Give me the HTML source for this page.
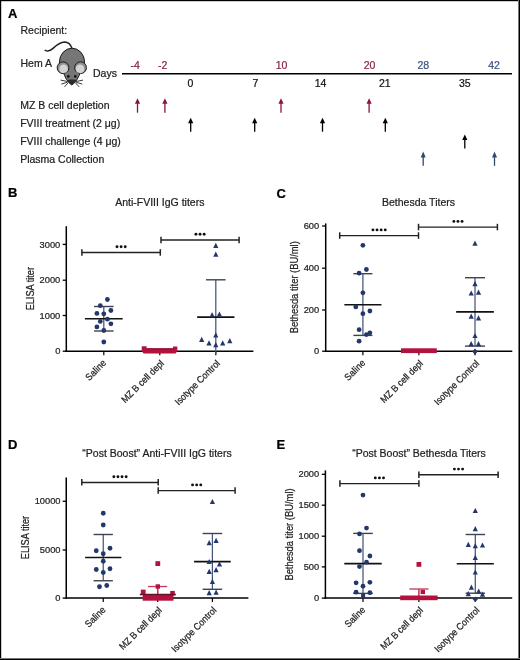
<!DOCTYPE html>
<html><head><meta charset="utf-8"><style>
html,body{margin:0;padding:0;background:#fff;}
svg{display:block;will-change:transform;}
text{font-family:"Liberation Sans", sans-serif;stroke:currentColor;stroke-width:0.22px;}
</style></head><body>
<svg width="520" height="660" viewBox="0 0 520 660">
<rect x="0" y="0" width="520" height="660" fill="#fff"/>
<rect x="0" y="0" width="520" height="1.2" fill="#000"/>
<rect x="0" y="0" width="1.2" height="660" fill="#000"/>
<rect x="518" y="0" width="1" height="660" fill="#777"/>
<rect x="519" y="0" width="1" height="660" fill="#000"/>
<rect x="0" y="658" width="520" height="1" fill="#777"/>
<rect x="0" y="659" width="520" height="1" fill="#000"/>
<text x="8" y="17.8" font-size="13" text-anchor="start" fill="#000" style="color:#000" font-weight="bold" >A</text>
<text x="20.5" y="34.1" font-size="10.5" text-anchor="start" fill="#222" style="color:#222" font-weight="normal" >Recipient:</text>
<text x="20.5" y="67.4" font-size="10.5" text-anchor="start" fill="#222" style="color:#222" font-weight="normal" >Hem A</text>
<text x="93" y="76.9" font-size="10.5" text-anchor="start" fill="#222" style="color:#222" font-weight="normal" >Days</text>
<line x1="122" y1="73.75" x2="512" y2="73.75" stroke="#000" stroke-width="1.5"/>
<text x="135.2" y="68.6" font-size="10.5" text-anchor="middle" fill="#862546" style="color:#862546" font-weight="normal" >-4</text>
<text x="162.65" y="68.6" font-size="10.5" text-anchor="middle" fill="#862546" style="color:#862546" font-weight="normal" >-2</text>
<text x="281.5" y="68.6" font-size="10.5" text-anchor="middle" fill="#862546" style="color:#862546" font-weight="normal" >10</text>
<text x="369.5" y="68.6" font-size="10.5" text-anchor="middle" fill="#862546" style="color:#862546" font-weight="normal" >20</text>
<text x="423.3" y="68.6" font-size="10.5" text-anchor="middle" fill="#3d5382" style="color:#3d5382" font-weight="normal" >28</text>
<text x="494" y="68.6" font-size="10.5" text-anchor="middle" fill="#3d5382" style="color:#3d5382" font-weight="normal" >42</text>
<text x="190.4" y="86.9" font-size="10.5" text-anchor="middle" fill="#111" style="color:#111" font-weight="normal" >0</text>
<text x="255.3" y="86.9" font-size="10.5" text-anchor="middle" fill="#111" style="color:#111" font-weight="normal" >7</text>
<text x="320.6" y="86.9" font-size="10.5" text-anchor="middle" fill="#111" style="color:#111" font-weight="normal" >14</text>
<text x="384.8" y="86.9" font-size="10.5" text-anchor="middle" fill="#111" style="color:#111" font-weight="normal" >21</text>
<text x="464.8" y="86.9" font-size="10.5" text-anchor="middle" fill="#111" style="color:#111" font-weight="normal" >35</text>
<text x="20.2" y="108.8" font-size="10.5" text-anchor="start" fill="#222" style="color:#222" font-weight="normal" >MZ B cell depletion</text>
<text x="20.2" y="126.8" font-size="10.5" text-anchor="start" fill="#222" style="color:#222" font-weight="normal" >FVIII treatment (2 μg)</text>
<text x="20.2" y="144.8" font-size="10.5" text-anchor="start" fill="#222" style="color:#222" font-weight="normal" >FVIII challenge (4 μg)</text>
<text x="20.2" y="162.5" font-size="10.5" text-anchor="start" fill="#222" style="color:#222" font-weight="normal" >Plasma Collection</text>
<line x1="137.5" y1="102.8" x2="137.5" y2="112.7" stroke="#8a1535" stroke-width="1.3"/>
<path d="M137.5 98.3 L140.1 103.8 L134.9 103.8 Z" fill="#8a1535"/>
<line x1="164.9" y1="102.8" x2="164.9" y2="112.7" stroke="#8a1535" stroke-width="1.3"/>
<path d="M164.9 98.3 L167.5 103.8 L162.3 103.8 Z" fill="#8a1535"/>
<line x1="281" y1="102.8" x2="281" y2="112.7" stroke="#8a1535" stroke-width="1.3"/>
<path d="M281 98.3 L283.6 103.8 L278.4 103.8 Z" fill="#8a1535"/>
<line x1="369.1" y1="102.8" x2="369.1" y2="112.7" stroke="#8a1535" stroke-width="1.3"/>
<path d="M369.1 98.3 L371.70000000000005 103.8 L366.5 103.8 Z" fill="#8a1535"/>
<line x1="190.7" y1="122.2" x2="190.7" y2="131.7" stroke="#000" stroke-width="1.3"/>
<path d="M190.7 117.7 L193.29999999999998 123.2 L188.1 123.2 Z" fill="#000"/>
<line x1="254.7" y1="122.2" x2="254.7" y2="131.7" stroke="#000" stroke-width="1.3"/>
<path d="M254.7 117.7 L257.3 123.2 L252.1 123.2 Z" fill="#000"/>
<line x1="322.5" y1="122.2" x2="322.5" y2="131.7" stroke="#000" stroke-width="1.3"/>
<path d="M322.5 117.7 L325.1 123.2 L319.9 123.2 Z" fill="#000"/>
<line x1="385.3" y1="122.2" x2="385.3" y2="131.7" stroke="#000" stroke-width="1.3"/>
<path d="M385.3 117.7 L387.90000000000003 123.2 L382.7 123.2 Z" fill="#000"/>
<line x1="464.8" y1="138.9" x2="464.8" y2="148.4" stroke="#000" stroke-width="1.3"/>
<path d="M464.8 134.4 L467.40000000000003 139.9 L462.2 139.9 Z" fill="#000"/>
<line x1="423.2" y1="156.5" x2="423.2" y2="165.8" stroke="#34476f" stroke-width="1.3"/>
<path d="M423.2 151.6 L425.7 157.5 L420.7 157.5 Z" fill="#34476f"/>
<line x1="494.5" y1="156.5" x2="494.5" y2="165.8" stroke="#34476f" stroke-width="1.3"/>
<path d="M494.5 151.6 L497.0 157.5 L492.0 157.5 Z" fill="#34476f"/>
<g>
<path d="M45.2 50.3 C47.5 51.6 50 51.2 53 48.4 C56.5 45 60 42 64.5 41.9 C68.5 41.9 70.8 44.5 72 48.5" fill="none" stroke="#222" stroke-width="1.5" stroke-linecap="round"/>
<ellipse cx="72" cy="62.2" rx="12.6" ry="14" fill="#767676" stroke="#1a1a1a" stroke-width="1"/>
<path d="M63.2 71.5 C64.5 77 67.5 82 71.8 85 C76.1 82 79.1 77 80.4 71.5" fill="#767676" stroke="#1a1a1a" stroke-width="1"/>
<circle cx="63.05" cy="67.7" r="5.9" fill="#8e8e8e" stroke="#1a1a1a" stroke-width="1"/>
<circle cx="63.6" cy="68.9" r="4.3" fill="#d4d4d4"/>
<circle cx="80.55" cy="67.7" r="5.9" fill="#8e8e8e" stroke="#1a1a1a" stroke-width="1"/>
<circle cx="80.0" cy="68.9" r="4.3" fill="#d4d4d4"/>
<path d="M64.6 72.5 C68 71.5 75.6 71.5 79 72.5 C77 79 74.5 82.5 71.8 84.6 C69.1 82.5 66.6 79 65.6 74.5 Z" fill="#767676"/>
<path d="M66.8 80.2 C69 79.4 74.6 79.4 76.8 80.2 C75.5 82.4 73.7 84 71.8 85 C69.9 84 68.1 82.4 66.8 80.2 Z" fill="#2b2b2b"/>
<circle cx="68.3" cy="76.4" r="1.35" fill="#111"/>
<circle cx="75.3" cy="76.4" r="1.35" fill="#111"/>
<g stroke="#222" stroke-width="0.9" fill="none" stroke-linecap="round">
<path d="M67 81.4 L61 80.2"/><path d="M67.2 82.3 L61.7 84"/><path d="M68 83 L64.8 86.5"/>
<path d="M76.6 81.4 L82.6 80.2"/><path d="M76.4 82.3 L81.9 84"/><path d="M75.6 83 L78.8 86.5"/>
</g>
</g>
<text x="8" y="197.3" font-size="13" text-anchor="start" fill="#000" style="color:#000" font-weight="bold" >B</text>
<text x="159.8" y="206.4" font-size="10.5" text-anchor="middle" fill="#222" style="color:#222" font-weight="normal" >Anti-FVIII IgG titers</text>
<line x1="66.3" y1="226.2" x2="66.3" y2="351.95" stroke="#000" stroke-width="1.5"/>
<line x1="65.55" y1="351.2" x2="253.4" y2="351.2" stroke="#000" stroke-width="1.5"/>
<line x1="62.699999999999996" y1="244.4" x2="66.3" y2="244.4" stroke="#000" stroke-width="1.3"/>
<text x="60.3" y="247.5" font-size="9.3" text-anchor="end" fill="#222" style="color:#222" font-weight="normal" >3000</text>
<line x1="62.699999999999996" y1="280.2" x2="66.3" y2="280.2" stroke="#000" stroke-width="1.3"/>
<text x="60.3" y="283.3" font-size="9.3" text-anchor="end" fill="#222" style="color:#222" font-weight="normal" >2000</text>
<line x1="62.699999999999996" y1="315.5" x2="66.3" y2="315.5" stroke="#000" stroke-width="1.3"/>
<text x="60.3" y="318.6" font-size="9.3" text-anchor="end" fill="#222" style="color:#222" font-weight="normal" >1000</text>
<line x1="62.699999999999996" y1="351.2" x2="66.3" y2="351.2" stroke="#000" stroke-width="1.3"/>
<text x="60.3" y="354.3" font-size="9.3" text-anchor="end" fill="#222" style="color:#222" font-weight="normal" >0</text>
<text x="0" y="0" font-size="10" text-anchor="middle" fill="#222" style="color:#222" textLength="43.3" lengthAdjust="spacingAndGlyphs" transform="translate(34.0,288.7) rotate(-90)">ELISA titer</text>
<line x1="103.8" y1="351.2" x2="103.8" y2="355.2" stroke="#000" stroke-width="1.2"/>
<text x="0" y="0" font-size="9.6" text-anchor="end" fill="#222" style="color:#222" textLength="24.8" lengthAdjust="spacingAndGlyphs" transform="translate(106.80,363.60) rotate(-45)">Saline</text>
<line x1="159.8" y1="351.2" x2="159.8" y2="355.2" stroke="#000" stroke-width="1.2"/>
<text x="0" y="0" font-size="9.6" text-anchor="end" fill="#222" style="color:#222" textLength="55.8" lengthAdjust="spacingAndGlyphs" transform="translate(164.60,364.00) rotate(-45)">MZ B cell depl</text>
<line x1="215.8" y1="351.2" x2="215.8" y2="355.2" stroke="#000" stroke-width="1.2"/>
<text x="0" y="0" font-size="9.6" text-anchor="end" fill="#222" style="color:#222" textLength="59.2" lengthAdjust="spacingAndGlyphs" transform="translate(220.60,364.00) rotate(-45)">Isotype Control</text>
<line x1="81.9" y1="252.5" x2="160.3" y2="252.5" stroke="#222" stroke-width="1.45"/>
<line x1="81.9" y1="249.2" x2="81.9" y2="255.7" stroke="#222" stroke-width="1.5"/>
<line x1="160.3" y1="249.2" x2="160.3" y2="255.7" stroke="#222" stroke-width="1.5"/>
<circle cx="117.00" cy="246.80" r="1.45" fill="#111"/>
<circle cx="121.10" cy="246.80" r="1.45" fill="#111"/>
<circle cx="125.20" cy="246.80" r="1.45" fill="#111"/>
<line x1="161" y1="240" x2="239.1" y2="240" stroke="#222" stroke-width="1.45"/>
<line x1="161" y1="236.7" x2="161" y2="243.2" stroke="#222" stroke-width="1.5"/>
<line x1="239.1" y1="236.7" x2="239.1" y2="243.2" stroke="#222" stroke-width="1.5"/>
<circle cx="195.95" cy="234.30" r="1.45" fill="#111"/>
<circle cx="200.05" cy="234.30" r="1.45" fill="#111"/>
<circle cx="204.15" cy="234.30" r="1.45" fill="#111"/>
<line x1="103.8" y1="306.5" x2="103.8" y2="331" stroke="#46557c" stroke-width="1.25"/>
<line x1="94.0" y1="306.5" x2="113.6" y2="306.5" stroke="#3e4254" stroke-width="1.4"/>
<line x1="94.0" y1="331" x2="113.6" y2="331" stroke="#3e4254" stroke-width="1.4"/>
<line x1="84.9" y1="318.8" x2="122.69999999999999" y2="318.8" stroke="#111" stroke-width="1.6"/>
<circle cx="107.4" cy="299.5" r="2.4" fill="#233768"/>
<circle cx="100.3" cy="305.7" r="2.4" fill="#233768"/>
<circle cx="110.9" cy="310.5" r="2.4" fill="#233768"/>
<circle cx="96.9" cy="313.4" r="2.4" fill="#233768"/>
<circle cx="103.8" cy="313.8" r="2.4" fill="#233768"/>
<circle cx="107.4" cy="319.2" r="2.4" fill="#233768"/>
<circle cx="100.3" cy="321.4" r="2.4" fill="#233768"/>
<circle cx="110.9" cy="323.8" r="2.4" fill="#233768"/>
<circle cx="96.9" cy="326.9" r="2.4" fill="#233768"/>
<circle cx="103.8" cy="330.5" r="2.4" fill="#233768"/>
<circle cx="103.8" cy="342" r="2.4" fill="#233768"/>
<path d="M141.7 346.3 H146.6 V348.3 H173 V346.5 H177.3 V351.2 L175.6 353.4 H143.6 L141.7 351.2 Z" fill="#b3123e"/>
<line x1="146.6" y1="348.9" x2="173" y2="348.9" stroke="#8a0f30" stroke-width="1.0"/>
<line x1="215.8" y1="279.8" x2="215.8" y2="354" stroke="#46557c" stroke-width="1.25"/>
<line x1="206.05" y1="279.8" x2="225.55" y2="279.8" stroke="#3e4254" stroke-width="1.4"/>
<line x1="197.15" y1="317.1" x2="234.45000000000002" y2="317.1" stroke="#111" stroke-width="1.6"/>
<path d="M215.80 242.70 L218.40 247.90 L213.20 247.90 Z" fill="#233768"/>
<path d="M215.80 251.50 L218.40 256.70 L213.20 256.70 Z" fill="#233768"/>
<path d="M212.10 312.00 L214.70 317.20 L209.50 317.20 Z" fill="#233768"/>
<path d="M219.40 311.40 L222.00 316.60 L216.80 316.60 Z" fill="#233768"/>
<path d="M215.80 332.30 L218.40 337.50 L213.20 337.50 Z" fill="#233768"/>
<path d="M201.70 336.80 L204.30 342.00 L199.10 342.00 Z" fill="#233768"/>
<path d="M209.00 340.20 L211.60 345.40 L206.40 345.40 Z" fill="#233768"/>
<path d="M215.80 342.10 L218.40 347.30 L213.20 347.30 Z" fill="#233768"/>
<path d="M222.70 340.20 L225.30 345.40 L220.10 345.40 Z" fill="#233768"/>
<path d="M229.80 338.00 L232.40 343.20 L227.20 343.20 Z" fill="#233768"/>
<text x="276.5" y="198.3" font-size="13" text-anchor="start" fill="#000" style="color:#000" font-weight="bold" >C</text>
<text x="418.5" y="205.8" font-size="10.5" text-anchor="middle" fill="#222" style="color:#222" font-weight="normal" >Bethesda Titers</text>
<line x1="325.7" y1="223.4" x2="325.7" y2="351.95" stroke="#000" stroke-width="1.5"/>
<line x1="324.95" y1="351.2" x2="512.3" y2="351.2" stroke="#000" stroke-width="1.5"/>
<line x1="322.09999999999997" y1="226" x2="325.7" y2="226" stroke="#000" stroke-width="1.3"/>
<text x="319.2" y="229.1" font-size="9.3" text-anchor="end" fill="#222" style="color:#222" font-weight="normal" >600</text>
<line x1="322.09999999999997" y1="268.2" x2="325.7" y2="268.2" stroke="#000" stroke-width="1.3"/>
<text x="319.2" y="271.3" font-size="9.3" text-anchor="end" fill="#222" style="color:#222" font-weight="normal" >400</text>
<line x1="322.09999999999997" y1="310" x2="325.7" y2="310" stroke="#000" stroke-width="1.3"/>
<text x="319.2" y="313.1" font-size="9.3" text-anchor="end" fill="#222" style="color:#222" font-weight="normal" >200</text>
<line x1="322.09999999999997" y1="351.2" x2="325.7" y2="351.2" stroke="#000" stroke-width="1.3"/>
<text x="319.2" y="354.3" font-size="9.3" text-anchor="end" fill="#222" style="color:#222" font-weight="normal" >0</text>
<text x="0" y="0" font-size="10" text-anchor="middle" fill="#222" style="color:#222" textLength="92" lengthAdjust="spacingAndGlyphs" transform="translate(297.5,287.2) rotate(-90)">Bethesda titer (BU/ml)</text>
<line x1="362.9" y1="351.2" x2="362.9" y2="355.2" stroke="#000" stroke-width="1.2"/>
<text x="0" y="0" font-size="9.6" text-anchor="end" fill="#222" style="color:#222" textLength="24.8" lengthAdjust="spacingAndGlyphs" transform="translate(365.90,363.60) rotate(-45)">Saline</text>
<line x1="418.9" y1="351.2" x2="418.9" y2="355.2" stroke="#000" stroke-width="1.2"/>
<text x="0" y="0" font-size="9.6" text-anchor="end" fill="#222" style="color:#222" textLength="55.8" lengthAdjust="spacingAndGlyphs" transform="translate(423.70,364.00) rotate(-45)">MZ B cell depl</text>
<line x1="475" y1="351.2" x2="475" y2="355.2" stroke="#000" stroke-width="1.2"/>
<text x="0" y="0" font-size="9.6" text-anchor="end" fill="#222" style="color:#222" textLength="59.2" lengthAdjust="spacingAndGlyphs" transform="translate(479.80,364.00) rotate(-45)">Isotype Control</text>
<line x1="339.7" y1="235.6" x2="418.5" y2="235.6" stroke="#222" stroke-width="1.45"/>
<line x1="339.7" y1="232.29999999999998" x2="339.7" y2="238.79999999999998" stroke="#222" stroke-width="1.5"/>
<line x1="418.5" y1="232.29999999999998" x2="418.5" y2="238.79999999999998" stroke="#222" stroke-width="1.5"/>
<circle cx="372.95" cy="229.90" r="1.45" fill="#111"/>
<circle cx="377.05" cy="229.90" r="1.45" fill="#111"/>
<circle cx="381.15" cy="229.90" r="1.45" fill="#111"/>
<circle cx="385.25" cy="229.90" r="1.45" fill="#111"/>
<line x1="418.5" y1="227.1" x2="497.4" y2="227.1" stroke="#222" stroke-width="1.45"/>
<line x1="418.5" y1="223.79999999999998" x2="418.5" y2="230.29999999999998" stroke="#222" stroke-width="1.5"/>
<line x1="497.4" y1="223.79999999999998" x2="497.4" y2="230.29999999999998" stroke="#222" stroke-width="1.5"/>
<circle cx="453.85" cy="221.40" r="1.45" fill="#111"/>
<circle cx="457.95" cy="221.40" r="1.45" fill="#111"/>
<circle cx="462.05" cy="221.40" r="1.45" fill="#111"/>
<line x1="362.9" y1="273.7" x2="362.9" y2="335.4" stroke="#46557c" stroke-width="1.25"/>
<line x1="353.34999999999997" y1="273.7" x2="372.45" y2="273.7" stroke="#3e4254" stroke-width="1.4"/>
<line x1="353.34999999999997" y1="335.4" x2="372.45" y2="335.4" stroke="#3e4254" stroke-width="1.4"/>
<line x1="344.34999999999997" y1="304.7" x2="381.45" y2="304.7" stroke="#111" stroke-width="1.6"/>
<circle cx="362.9" cy="245.3" r="2.4" fill="#233768"/>
<circle cx="366.4" cy="269.5" r="2.4" fill="#233768"/>
<circle cx="359.1" cy="273.2" r="2.4" fill="#233768"/>
<circle cx="362.9" cy="292.8" r="2.4" fill="#233768"/>
<circle cx="355.8" cy="306.9" r="2.4" fill="#233768"/>
<circle cx="369.9" cy="311" r="2.4" fill="#233768"/>
<circle cx="362.9" cy="313.7" r="2.4" fill="#233768"/>
<circle cx="359.1" cy="329.7" r="2.4" fill="#233768"/>
<circle cx="369.9" cy="332.8" r="2.4" fill="#233768"/>
<circle cx="366.4" cy="334.6" r="2.4" fill="#233768"/>
<circle cx="359.1" cy="341.2" r="2.4" fill="#233768"/>
<rect x="401" y="348.3" width="35.8" height="4.8" fill="#b3123e"/>
<line x1="475" y1="277.7" x2="475" y2="346.1" stroke="#46557c" stroke-width="1.25"/>
<line x1="465.0" y1="277.7" x2="485.0" y2="277.7" stroke="#3e4254" stroke-width="1.4"/>
<line x1="465.0" y1="346.1" x2="485.0" y2="346.1" stroke="#3e4254" stroke-width="1.4"/>
<line x1="456.15" y1="311.9" x2="493.85" y2="311.9" stroke="#111" stroke-width="1.6"/>
<path d="M475.00 240.60 L477.60 245.80 L472.40 245.80 Z" fill="#233768"/>
<path d="M475.00 281.00 L477.60 286.20 L472.40 286.20 Z" fill="#233768"/>
<path d="M471.20 290.40 L473.80 295.60 L468.60 295.60 Z" fill="#233768"/>
<path d="M478.50 289.60 L481.10 294.80 L475.90 294.80 Z" fill="#233768"/>
<path d="M471.20 313.50 L473.80 318.70 L468.60 318.70 Z" fill="#233768"/>
<path d="M478.50 315.20 L481.10 320.40 L475.90 320.40 Z" fill="#233768"/>
<path d="M475.00 332.90 L477.60 338.10 L472.40 338.10 Z" fill="#233768"/>
<path d="M471.20 341.00 L473.80 346.20 L468.60 346.20 Z" fill="#233768"/>
<path d="M478.50 341.00 L481.10 346.20 L475.90 346.20 Z" fill="#233768"/>
<path d="M475 348.4 L477.6 351.4 L475 355 L472.4 351.4 Z" fill="#233768"/>
<text x="8" y="449.0" font-size="13" text-anchor="start" fill="#000" style="color:#000" font-weight="bold" >D</text>
<text x="157" y="457.0" font-size="10.5" text-anchor="middle" fill="#222" style="color:#222" font-weight="normal" >“Post Boost” Anti-FVIII IgG titers</text>
<line x1="66.25" y1="477.5" x2="66.25" y2="598.85" stroke="#000" stroke-width="1.5"/>
<line x1="65.5" y1="598.1" x2="248.4" y2="598.1" stroke="#000" stroke-width="1.5"/>
<line x1="62.65" y1="501.25" x2="66.25" y2="501.25" stroke="#000" stroke-width="1.3"/>
<text x="60.5" y="504.35" font-size="9.3" text-anchor="end" fill="#222" style="color:#222" font-weight="normal" >10000</text>
<line x1="62.65" y1="550" x2="66.25" y2="550" stroke="#000" stroke-width="1.3"/>
<text x="60.5" y="553.1" font-size="9.3" text-anchor="end" fill="#222" style="color:#222" font-weight="normal" >5000</text>
<line x1="62.65" y1="598.1" x2="66.25" y2="598.1" stroke="#000" stroke-width="1.3"/>
<text x="60.5" y="601.2" font-size="9.3" text-anchor="end" fill="#222" style="color:#222" font-weight="normal" >0</text>
<text x="0" y="0" font-size="10" text-anchor="middle" fill="#222" style="color:#222" textLength="43.3" lengthAdjust="spacingAndGlyphs" transform="translate(28.6,537.5) rotate(-90)">ELISA titer</text>
<line x1="103.25" y1="598.1" x2="103.25" y2="602.1" stroke="#000" stroke-width="1.2"/>
<text x="0" y="0" font-size="9.6" text-anchor="end" fill="#222" style="color:#222" textLength="24.8" lengthAdjust="spacingAndGlyphs" transform="translate(106.25,610.50) rotate(-45)">Saline</text>
<line x1="157.7" y1="598.1" x2="157.7" y2="602.1" stroke="#000" stroke-width="1.2"/>
<text x="0" y="0" font-size="9.6" text-anchor="end" fill="#222" style="color:#222" textLength="55.8" lengthAdjust="spacingAndGlyphs" transform="translate(162.50,610.90) rotate(-45)">MZ B cell depl</text>
<line x1="212.4" y1="598.1" x2="212.4" y2="602.1" stroke="#000" stroke-width="1.2"/>
<text x="0" y="0" font-size="9.6" text-anchor="end" fill="#222" style="color:#222" textLength="59.2" lengthAdjust="spacingAndGlyphs" transform="translate(217.20,610.90) rotate(-45)">Isotype Control</text>
<line x1="81.8" y1="482.4" x2="158.2" y2="482.4" stroke="#222" stroke-width="1.45"/>
<line x1="81.8" y1="479.09999999999997" x2="81.8" y2="485.59999999999997" stroke="#222" stroke-width="1.5"/>
<line x1="158.2" y1="479.09999999999997" x2="158.2" y2="485.59999999999997" stroke="#222" stroke-width="1.5"/>
<circle cx="113.85" cy="476.70" r="1.45" fill="#111"/>
<circle cx="117.95" cy="476.70" r="1.45" fill="#111"/>
<circle cx="122.05" cy="476.70" r="1.45" fill="#111"/>
<circle cx="126.15" cy="476.70" r="1.45" fill="#111"/>
<line x1="158.2" y1="490.6" x2="235.1" y2="490.6" stroke="#222" stroke-width="1.45"/>
<line x1="158.2" y1="487.3" x2="158.2" y2="493.8" stroke="#222" stroke-width="1.5"/>
<line x1="235.1" y1="487.3" x2="235.1" y2="493.8" stroke="#222" stroke-width="1.5"/>
<circle cx="192.55" cy="484.90" r="1.45" fill="#111"/>
<circle cx="196.65" cy="484.90" r="1.45" fill="#111"/>
<circle cx="200.75" cy="484.90" r="1.45" fill="#111"/>
<line x1="103.25" y1="534.5" x2="103.25" y2="580.75" stroke="#46557c" stroke-width="1.25"/>
<line x1="93.6" y1="534.5" x2="112.9" y2="534.5" stroke="#3e4254" stroke-width="1.4"/>
<line x1="93.6" y1="580.75" x2="112.9" y2="580.75" stroke="#3e4254" stroke-width="1.4"/>
<line x1="85.1" y1="557.5" x2="121.4" y2="557.5" stroke="#111" stroke-width="1.6"/>
<circle cx="103.25" cy="513.25" r="2.4" fill="#233768"/>
<circle cx="103.25" cy="525" r="2.4" fill="#233768"/>
<circle cx="96.25" cy="550.75" r="2.4" fill="#233768"/>
<circle cx="110" cy="548.25" r="2.4" fill="#233768"/>
<circle cx="103.25" cy="553.75" r="2.4" fill="#233768"/>
<circle cx="103.25" cy="561.25" r="2.4" fill="#233768"/>
<circle cx="96.25" cy="569.5" r="2.4" fill="#233768"/>
<circle cx="110" cy="568.75" r="2.4" fill="#233768"/>
<circle cx="103.25" cy="572.5" r="2.4" fill="#233768"/>
<circle cx="99.5" cy="586.75" r="2.4" fill="#233768"/>
<circle cx="106.75" cy="585.5" r="2.4" fill="#233768"/>
<line x1="157.8" y1="586.5" x2="157.8" y2="598" stroke="#b3123e" stroke-width="1.3"/>
<line x1="148" y1="586.5" x2="167.2" y2="586.5" stroke="#c0385a" stroke-width="1.3"/>
<rect x="155.4" y="561.2" width="4.8" height="4.8" fill="#b3123e"/>
<rect x="155.60000000000002" y="584.3" width="4.4" height="4.4" fill="#b3123e"/>
<rect x="140.79999999999998" y="589.6" width="4.8" height="4.8" fill="#b3123e"/>
<rect x="170.2" y="590.9000000000001" width="4.6" height="4.6" fill="#b3123e"/>
<path d="M142.7 594.9 H173.5 V600.7 H142.7 Z" fill="#b3123e"/>
<line x1="139.8" y1="594.6" x2="175.9" y2="594.6" stroke="#6a1028" stroke-width="1.5"/>
<line x1="212.4" y1="533.5" x2="212.4" y2="589.3" stroke="#46557c" stroke-width="1.25"/>
<line x1="202.6" y1="533.5" x2="222.20000000000002" y2="533.5" stroke="#3e4254" stroke-width="1.4"/>
<line x1="202.6" y1="589.3" x2="222.20000000000002" y2="589.3" stroke="#3e4254" stroke-width="1.4"/>
<line x1="194.05" y1="561.6" x2="230.75" y2="561.6" stroke="#111" stroke-width="1.6"/>
<path d="M212.40 498.90 L215.00 504.10 L209.80 504.10 Z" fill="#233768"/>
<path d="M209.20 540.00 L211.80 545.20 L206.60 545.20 Z" fill="#233768"/>
<path d="M216.10 537.70 L218.70 542.90 L213.50 542.90 Z" fill="#233768"/>
<path d="M209.20 558.90 L211.80 564.10 L206.60 564.10 Z" fill="#233768"/>
<path d="M219.50 561.20 L222.10 566.40 L216.90 566.40 Z" fill="#233768"/>
<path d="M209.20 568.80 L211.80 574.00 L206.60 574.00 Z" fill="#233768"/>
<path d="M216.10 567.00 L218.70 572.20 L213.50 572.20 Z" fill="#233768"/>
<path d="M212.40 578.80 L215.00 584.00 L209.80 584.00 Z" fill="#233768"/>
<path d="M209.20 590.10 L211.80 595.30 L206.60 595.30 Z" fill="#233768"/>
<path d="M216.10 589.60 L218.70 594.80 L213.50 594.80 Z" fill="#233768"/>
<text x="276.5" y="448.5" font-size="13" text-anchor="start" fill="#000" style="color:#000" font-weight="bold" >E</text>
<text x="419" y="456.6" font-size="10.5" text-anchor="middle" fill="#222" style="color:#222" font-weight="normal" >“Post Boost” Bethesda Titers</text>
<line x1="325.4" y1="470.4" x2="325.4" y2="598.85" stroke="#000" stroke-width="1.5"/>
<line x1="324.65" y1="598.1" x2="512.2" y2="598.1" stroke="#000" stroke-width="1.5"/>
<line x1="321.79999999999995" y1="474.3" x2="325.4" y2="474.3" stroke="#000" stroke-width="1.3"/>
<text x="319.2" y="477.40000000000003" font-size="9.3" text-anchor="end" fill="#222" style="color:#222" font-weight="normal" >2000</text>
<line x1="321.79999999999995" y1="505.2" x2="325.4" y2="505.2" stroke="#000" stroke-width="1.3"/>
<text x="319.2" y="508.3" font-size="9.3" text-anchor="end" fill="#222" style="color:#222" font-weight="normal" >1500</text>
<line x1="321.79999999999995" y1="536.2" x2="325.4" y2="536.2" stroke="#000" stroke-width="1.3"/>
<text x="319.2" y="539.3000000000001" font-size="9.3" text-anchor="end" fill="#222" style="color:#222" font-weight="normal" >1000</text>
<line x1="321.79999999999995" y1="566.9" x2="325.4" y2="566.9" stroke="#000" stroke-width="1.3"/>
<text x="319.2" y="570.0" font-size="9.3" text-anchor="end" fill="#222" style="color:#222" font-weight="normal" >500</text>
<line x1="321.79999999999995" y1="598.1" x2="325.4" y2="598.1" stroke="#000" stroke-width="1.3"/>
<text x="319.2" y="601.2" font-size="9.3" text-anchor="end" fill="#222" style="color:#222" font-weight="normal" >0</text>
<text x="0" y="0" font-size="10" text-anchor="middle" fill="#222" style="color:#222" textLength="92.2" lengthAdjust="spacingAndGlyphs" transform="translate(292.8,534.5) rotate(-90)">Bethesda titer (BU/ml)</text>
<line x1="363" y1="598.1" x2="363" y2="602.1" stroke="#000" stroke-width="1.2"/>
<text x="0" y="0" font-size="9.6" text-anchor="end" fill="#222" style="color:#222" textLength="24.8" lengthAdjust="spacingAndGlyphs" transform="translate(366.00,610.50) rotate(-45)">Saline</text>
<line x1="418.9" y1="598.1" x2="418.9" y2="602.1" stroke="#000" stroke-width="1.2"/>
<text x="0" y="0" font-size="9.6" text-anchor="end" fill="#222" style="color:#222" textLength="55.8" lengthAdjust="spacingAndGlyphs" transform="translate(423.70,610.90) rotate(-45)">MZ B cell depl</text>
<line x1="475.3" y1="598.1" x2="475.3" y2="602.1" stroke="#000" stroke-width="1.2"/>
<text x="0" y="0" font-size="9.6" text-anchor="end" fill="#222" style="color:#222" textLength="59.2" lengthAdjust="spacingAndGlyphs" transform="translate(480.10,610.90) rotate(-45)">Isotype Control</text>
<line x1="339.9" y1="483.6" x2="418.9" y2="483.6" stroke="#222" stroke-width="1.45"/>
<line x1="339.9" y1="480.3" x2="339.9" y2="486.8" stroke="#222" stroke-width="1.5"/>
<line x1="418.9" y1="480.3" x2="418.9" y2="486.8" stroke="#222" stroke-width="1.5"/>
<circle cx="375.30" cy="477.90" r="1.45" fill="#111"/>
<circle cx="379.40" cy="477.90" r="1.45" fill="#111"/>
<circle cx="383.50" cy="477.90" r="1.45" fill="#111"/>
<line x1="418.9" y1="474.8" x2="498.1" y2="474.8" stroke="#222" stroke-width="1.45"/>
<line x1="418.9" y1="471.5" x2="418.9" y2="478.0" stroke="#222" stroke-width="1.5"/>
<line x1="498.1" y1="471.5" x2="498.1" y2="478.0" stroke="#222" stroke-width="1.5"/>
<circle cx="454.40" cy="469.10" r="1.45" fill="#111"/>
<circle cx="458.50" cy="469.10" r="1.45" fill="#111"/>
<circle cx="462.60" cy="469.10" r="1.45" fill="#111"/>
<line x1="363" y1="533.4" x2="363" y2="593.4" stroke="#46557c" stroke-width="1.25"/>
<line x1="353.2" y1="533.4" x2="372.8" y2="533.4" stroke="#3e4254" stroke-width="1.4"/>
<line x1="353.2" y1="593.4" x2="372.8" y2="593.4" stroke="#3e4254" stroke-width="1.4"/>
<line x1="344.3" y1="563.6" x2="381.7" y2="563.6" stroke="#111" stroke-width="1.6"/>
<circle cx="363" cy="495.1" r="2.4" fill="#233768"/>
<circle cx="366.5" cy="528.1" r="2.4" fill="#233768"/>
<circle cx="359.5" cy="533.9" r="2.4" fill="#233768"/>
<circle cx="359.5" cy="550.7" r="2.4" fill="#233768"/>
<circle cx="369.9" cy="556" r="2.4" fill="#233768"/>
<circle cx="366.5" cy="562.2" r="2.4" fill="#233768"/>
<circle cx="359.5" cy="566.6" r="2.4" fill="#233768"/>
<circle cx="356.1" cy="582.8" r="2.4" fill="#233768"/>
<circle cx="369.9" cy="582.3" r="2.4" fill="#233768"/>
<circle cx="363" cy="586.2" r="2.4" fill="#233768"/>
<circle cx="356.1" cy="592.2" r="2.4" fill="#233768"/>
<circle cx="369.9" cy="592.7" r="2.4" fill="#233768"/>
<rect x="361.1" y="593.6" width="4.0" height="4.0" fill="#233768"/>
<line x1="418.9" y1="589" x2="418.9" y2="598" stroke="#b3123e" stroke-width="1.3"/>
<line x1="409.3" y1="589" x2="428.5" y2="589" stroke="#c0385a" stroke-width="1.3"/>
<rect x="416.5" y="562.0" width="4.8" height="4.8" fill="#b3123e"/>
<rect x="420.6" y="589.6999999999999" width="4.4" height="4.4" fill="#b3123e"/>
<rect x="400.2" y="595.5" width="37.4" height="4.7" fill="#b3123e"/>
<line x1="475.3" y1="534.5" x2="475.3" y2="593.2" stroke="#46557c" stroke-width="1.25"/>
<line x1="465.6" y1="534.5" x2="485.0" y2="534.5" stroke="#3e4254" stroke-width="1.4"/>
<line x1="465.6" y1="593.2" x2="485.0" y2="593.2" stroke="#3e4254" stroke-width="1.4"/>
<line x1="456.75" y1="563.8" x2="493.85" y2="563.8" stroke="#111" stroke-width="1.6"/>
<path d="M475.30 507.90 L477.90 513.10 L472.70 513.10 Z" fill="#233768"/>
<path d="M475.30 526.10 L477.90 531.30 L472.70 531.30 Z" fill="#233768"/>
<path d="M468.30 541.70 L470.90 546.90 L465.70 546.90 Z" fill="#233768"/>
<path d="M475.30 543.00 L477.90 548.20 L472.70 548.20 Z" fill="#233768"/>
<path d="M482.50 542.40 L485.10 547.60 L479.90 547.60 Z" fill="#233768"/>
<path d="M475.30 554.70 L477.90 559.90 L472.70 559.90 Z" fill="#233768"/>
<path d="M475.30 569.40 L477.90 574.60 L472.70 574.60 Z" fill="#233768"/>
<path d="M471.40 584.50 L474.00 589.70 L468.80 589.70 Z" fill="#233768"/>
<path d="M468.30 591.00 L470.90 596.20 L465.70 596.20 Z" fill="#233768"/>
<path d="M478.70 588.40 L481.30 593.60 L476.10 593.60 Z" fill="#233768"/>
<path d="M482.50 591.50 L485.10 596.70 L479.90 596.70 Z" fill="#233768"/>
<path d="M475.3 596.4 L477.9 599.2 L475.3 602 L472.7 599.2 Z" fill="#233768"/>
</svg></body></html>
